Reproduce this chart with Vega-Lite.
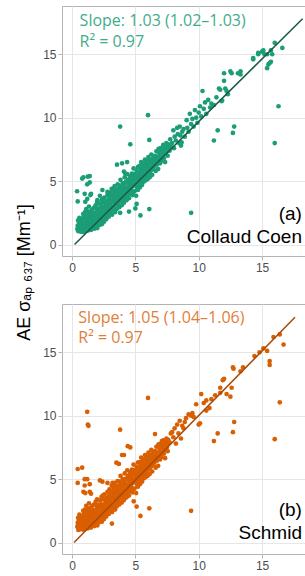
{
  "$schema": "https://vega.github.io/schema/vega-lite/v6.json",
  "background": "white",
  "padding": {"left": 16, "top": 5, "right": 0, "bottom": 0},
  "title": {"text": "AE σₐₚ ₆₃₇ [Mm⁻¹]", "orient": "left", "anchor": "middle", "font": "Liberation Sans", "fontSize": 18, "fontWeight": "normal", "color": "#000000", "offset": 8, "dx": 16},
  "spacing": 29,
  "config": {
    "view": {"stroke": "#b3b3b3", "strokeWidth": 1},
    "axis": {"domain": false, "labelFont": "Liberation Sans", "labelFontSize": 12, "labelColor": "#4d4d4d", "tickSize": 4, "labelPadding": 2, "labelOverlap": false, "labelFlush": false, "gridWidth": 1}
  },
  "datasets": {
    "a": [
      {"x":0.42,"y":1.22},{"x":0.45,"y":1.48},{"x":0.5,"y":1.05},{"x":0.52,"y":1.35},{"x":0.55,"y":1.7},{"x":0.6,"y":1.15},{"x":0.63,"y":1.5},{"x":0.66,"y":1.9},{"x":0.7,"y":1.02},{"x":0.72,"y":1.28},{"x":0.75,"y":1.62},{"x":0.78,"y":2.05},{"x":0.8,"y":1.12},{"x":0.83,"y":1.42},{"x":0.86,"y":1.78},{"x":0.9,"y":1.0},{"x":0.92,"y":1.25},{"x":0.95,"y":1.55},{"x":0.97,"y":2.2},{"x":1.0,"y":1.35},
      {"x":1.03,"y":1.08},{"x":1.05,"y":1.7},{"x":1.08,"y":2.0},{"x":1.1,"y":1.45},{"x":1.13,"y":1.18},{"x":1.16,"y":2.4},{"x":1.2,"y":1.6},{"x":1.22,"y":1.9},{"x":1.25,"y":1.1},{"x":1.28,"y":1.35},{"x":1.3,"y":2.15},{"x":1.33,"y":2.6},{"x":1.36,"y":1.75},{"x":1.4,"y":1.25},{"x":1.42,"y":1.5},{"x":1.45,"y":2.0},{"x":1.48,"y":2.3},{"x":1.5,"y":1.15},{"x":1.53,"y":1.65},{"x":1.56,"y":2.75},{"x":1.58,"y":1.9},
      {"x":1.62,"y":1.35},{"x":1.65,"y":2.1},{"x":1.68,"y":2.5},{"x":1.7,"y":1.6},{"x":1.73,"y":2.9},{"x":1.76,"y":1.25},{"x":1.8,"y":1.85},{"x":1.83,"y":2.3},{"x":1.86,"y":3.1},{"x":1.9,"y":1.5},{"x":1.93,"y":2.05},{"x":1.96,"y":2.6},{"x":2.0,"y":1.3},{"x":2.03,"y":1.75},{"x":2.06,"y":2.4},{"x":2.1,"y":2.85},{"x":2.13,"y":2.15},{"x":2.16,"y":1.55},{"x":2.2,"y":3.2},{"x":2.2,"y":2.55},
      {"x":2.24,"y":1.9},{"x":2.27,"y":2.3},{"x":2.3,"y":2.7},{"x":2.33,"y":3.5},{"x":2.36,"y":1.6},{"x":2.4,"y":2.05},{"x":2.43,"y":2.95},{"x":2.46,"y":3.3},{"x":2.5,"y":2.45},{"x":2.53,"y":1.8},{"x":2.56,"y":3.7},{"x":2.6,"y":2.2},{"x":2.63,"y":2.8},{"x":2.66,"y":3.1},{"x":2.7,"y":2.0},{"x":2.73,"y":2.55},{"x":2.76,"y":3.45},{"x":2.8,"y":3.9},{"x":2.8,"y":2.35},
      {"x":2.84,"y":2.75},{"x":2.87,"y":3.05},{"x":2.9,"y":2.2},{"x":2.93,"y":3.6},{"x":2.96,"y":4.1},{"x":3.0,"y":2.5},{"x":3.03,"y":3.25},{"x":3.06,"y":2.9},{"x":3.1,"y":3.85},{"x":3.13,"y":4.4},{"x":3.16,"y":2.35},{"x":3.2,"y":3.0},{"x":3.23,"y":3.5},{"x":3.26,"y":2.7},{"x":3.3,"y":4.05},{"x":3.33,"y":3.3},{"x":3.36,"y":4.6},{"x":3.4,"y":2.55},{"x":3.4,"y":3.75},
      {"x":3.44,"y":3.15},{"x":3.47,"y":3.5},{"x":3.5,"y":4.25},{"x":3.53,"y":2.8},{"x":3.56,"y":3.9},{"x":3.6,"y":4.75},{"x":3.63,"y":3.3},{"x":3.66,"y":3.65},{"x":3.7,"y":4.4},{"x":3.73,"y":2.95},{"x":3.76,"y":4.05},{"x":3.8,"y":3.45},{"x":3.83,"y":5.1},{"x":3.86,"y":3.8},{"x":3.9,"y":4.5},{"x":3.93,"y":3.1},{"x":3.96,"y":4.2},{"x":4.0,"y":3.6},{"x":4.0,"y":4.85},
      {"x":4.04,"y":3.95},{"x":4.07,"y":4.3},{"x":4.1,"y":3.3},{"x":4.13,"y":4.7},{"x":4.16,"y":5.3},{"x":4.2,"y":3.75},{"x":4.23,"y":4.1},{"x":4.26,"y":4.95},{"x":4.3,"y":3.5},{"x":4.33,"y":4.45},{"x":4.36,"y":5.55},{"x":4.4,"y":3.9},{"x":4.43,"y":4.25},{"x":4.46,"y":4.8},{"x":4.5,"y":3.65},{"x":4.53,"y":5.15},{"x":4.56,"y":4.55},{"x":4.6,"y":4.0},{"x":4.6,"y":5.4},
      {"x":4.64,"y":4.75},{"x":4.67,"y":5.05},{"x":4.7,"y":4.3},{"x":4.73,"y":5.6},{"x":4.76,"y":3.9},{"x":4.8,"y":4.6},{"x":4.83,"y":5.3},{"x":4.86,"y":6.0},{"x":4.9,"y":4.95},{"x":4.93,"y":4.2},{"x":4.96,"y":5.5},{"x":5.0,"y":4.7},{"x":5.03,"y":5.15},{"x":5.06,"y":3.85},{"x":5.1,"y":5.8},{"x":5.13,"y":4.45},{"x":5.16,"y":5.0},{"x":5.2,"y":6.1},{"x":5.2,"y":4.3},
      {"x":5.24,"y":5.35},{"x":5.27,"y":5.7},{"x":5.3,"y":4.85},{"x":5.33,"y":6.2},{"x":5.36,"y":4.5},{"x":5.4,"y":5.2},{"x":5.43,"y":5.95},{"x":5.46,"y":6.5},{"x":5.5,"y":5.5},{"x":5.53,"y":4.7},{"x":5.56,"y":6.05},{"x":5.6,"y":5.25},{"x":5.63,"y":5.75},{"x":5.66,"y":4.95},{"x":5.7,"y":6.4},{"x":5.73,"y":5.55},{"x":5.76,"y":6.7},{"x":5.8,"y":5.05},{"x":5.8,"y":5.9},
      {"x":5.84,"y":6.25},{"x":5.87,"y":5.4},{"x":5.9,"y":6.6},{"x":5.93,"y":5.75},{"x":5.96,"y":5.15},{"x":6.0,"y":6.35},{"x":6.03,"y":6.9},{"x":6.06,"y":5.6},{"x":6.1,"y":6.05},{"x":6.13,"y":5.3},{"x":6.16,"y":6.7},{"x":6.2,"y":6.2},{"x":6.23,"y":5.85},{"x":6.26,"y":7.1},{"x":6.3,"y":6.45},{"x":6.33,"y":5.5},{"x":6.36,"y":6.1},{"x":6.4,"y":6.8},{"x":6.4,"y":5.95},
      {"x":6.45,"y":6.5},{"x":6.5,"y":6.15},{"x":6.55,"y":7.0},{"x":6.6,"y":5.8},{"x":6.63,"y":6.6},{"x":6.66,"y":7.35},{"x":6.7,"y":6.3},{"x":6.75,"y":6.9},{"x":6.8,"y":5.95},{"x":6.83,"y":7.55},{"x":6.86,"y":6.55},{"x":6.9,"y":7.2},{"x":6.95,"y":6.4},{"x":7.0,"y":6.85},{"x":7.0,"y":7.6},
      {"x":7.05,"y":6.6},{"x":7.1,"y":7.3},{"x":7.15,"y":7.0},{"x":7.2,"y":7.85},{"x":7.25,"y":6.8},{"x":7.3,"y":7.5},{"x":7.35,"y":6.5},{"x":7.4,"y":7.2},{"x":7.45,"y":8.0},{"x":7.5,"y":7.6},{"x":7.55,"y":7.0},{"x":7.6,"y":7.9},
      {"x":0.48,"y":1.9},{"x":0.58,"y":2.1},{"x":0.68,"y":1.35},{"x":0.88,"y":2.4},{"x":1.02,"y":2.55},{"x":1.12,"y":2.8},{"x":1.18,"y":1.3},{"x":1.26,"y":2.3},{"x":1.34,"y":3.0},{"x":1.44,"y":1.8},{"x":1.52,"y":2.5},{"x":1.6,"y":2.2},{"x":1.66,"y":1.8},{"x":1.74,"y":2.15},{"x":1.84,"y":1.6},{"x":1.92,"y":2.8},{"x":1.98,"y":3.3},{"x":2.04,"y":2.1},{"x":2.12,"y":2.6},{"x":2.18,"y":1.9},{"x":2.26,"y":2.6},{"x":2.35,"y":2.45},{"x":2.42,"y":3.6},{"x":2.48,"y":2.75},{"x":2.55,"y":2.1},{"x":2.62,"y":3.35},{"x":2.68,"y":2.45},{"x":2.74,"y":2.95},{"x":2.82,"y":3.3},{"x":2.88,"y":2.55},{"x":2.95,"y":2.9},{"x":3.02,"y":3.9},{"x":3.08,"y":3.4},{"x":3.14,"y":2.7},{"x":3.22,"y":4.3},{"x":3.28,"y":3.7},{"x":3.35,"y":2.9},{"x":3.42,"y":4.35},{"x":3.48,"y":3.85},{"x":3.55,"y":3.3},{"x":3.62,"y":4.1},{"x":3.68,"y":3.1},{"x":3.75,"y":4.65},{"x":3.82,"y":3.95},{"x":3.88,"y":4.25},{"x":3.95,"y":3.4},{"x":4.02,"y":4.5},{"x":4.08,"y":3.7},{"x":4.15,"y":4.05},{"x":4.22,"y":4.55},{"x":4.28,"y":3.95},{"x":4.35,"y":4.2},{"x":4.42,"y":5.1},{"x":4.48,"y":4.35},{"x":4.55,"y":5.0},{"x":4.62,"y":4.4},{"x":4.68,"y":4.65},{"x":4.75,"y":5.25},{"x":4.82,"y":4.1},{"x":4.88,"y":5.55},{"x":4.95,"y":4.85},{"x":5.02,"y":5.45},{"x":5.08,"y":4.9},{"x":5.15,"y":5.35},{"x":5.22,"y":4.75},{"x":5.28,"y":5.05},{"x":5.35,"y":5.6},{"x":5.42,"y":5.4},{"x":5.48,"y":4.95},{"x":5.55,"y":5.75},{"x":5.62,"y":6.3},{"x":5.68,"y":5.35},{"x":5.75,"y":6.1},{"x":5.82,"y":5.6},{"x":5.88,"y":6.0},{"x":5.95,"y":6.5},{"x":6.02,"y":5.9},{"x":6.08,"y":6.5},{"x":6.15,"y":5.75},{"x":6.22,"y":6.55},{"x":6.28,"y":6.0},{"x":6.35,"y":6.65},{"x":6.42,"y":6.3},{"x":6.48,"y":6.9},{"x":6.58,"y":6.4},{"x":6.68,"y":6.75},{"x":6.78,"y":6.5},{"x":6.88,"y":6.95},{"x":6.98,"y":7.3},{"x":7.08,"y":7.05},{"x":7.18,"y":7.5},{"x":7.28,"y":7.15},{"x":7.38,"y":7.8},{"x":7.48,"y":7.35},{"x":7.58,"y":7.6},{"x":0.55,"y":1.25},{"x":0.75,"y":1.4},{"x":0.95,"y":1.2},{"x":1.15,"y":1.6},{"x":1.35,"y":1.45},{"x":1.55,"y":1.4},{"x":1.75,"y":1.95},{"x":1.95,"y":1.85},{"x":2.15,"y":2.35},{"x":2.35,"y":2.9},{"x":2.55,"y":2.6},{"x":2.75,"y":2.75},
      {"x":7.7,"y":7.4},{"x":7.75,"y":8.3},{"x":7.8,"y":7.7},{"x":7.9,"y":8.0},{"x":8.0,"y":9.0},{"x":8.05,"y":7.6},{"x":8.1,"y":8.5},{"x":8.2,"y":8.2},{"x":8.3,"y":9.2},{"x":8.35,"y":8.7},{"x":8.45,"y":8.0},{"x":8.5,"y":9.3},{"x":8.55,"y":8.6},{"x":8.6,"y":7.8},{"x":8.65,"y":8.05},{"x":8.7,"y":8.9},{"x":8.8,"y":9.1},{"x":8.9,"y":8.5},{"x":9.05,"y":9.8},{"x":9.1,"y":9.2},{"x":9.2,"y":8.9},{"x":9.3,"y":10.3},{"x":9.4,"y":9.5},{"x":9.5,"y":9.9},{"x":9.6,"y":9.3},{"x":9.7,"y":10.6},{"x":9.8,"y":10.0},{"x":9.9,"y":9.6},{"x":10.0,"y":10.4},{"x":10.1,"y":10.9},{"x":10.2,"y":10.1},{"x":10.3,"y":12.1},{"x":10.4,"y":10.7},{"x":10.5,"y":11.2},{"x":10.6,"y":10.3},{"x":10.75,"y":11.4},{"x":10.9,"y":10.8},{"x":11.0,"y":11.1},{"x":11.2,"y":11.0},{"x":11.4,"y":11.6},
      {"x":11.6,"y":12.3},{"x":11.8,"y":11.3},{"x":11.85,"y":11.35},{"x":11.7,"y":12.2},{"x":12.0,"y":12.9},{"x":12.0,"y":13.5},{"x":12.1,"y":12.3},{"x":12.2,"y":12.1},{"x":12.3,"y":11.85},{"x":12.5,"y":13.65},{"x":12.6,"y":13.5},{"x":13.1,"y":13.5},{"x":13.3,"y":13.4},{"x":13.3,"y":13.65},{"x":14.3,"y":14.6},{"x":14.3,"y":14.7},{"x":14.7,"y":15.0},{"x":14.7,"y":15.1},{"x":15.0,"y":15.2},{"x":15.1,"y":15.3},{"x":15.2,"y":15.0},{"x":15.4,"y":15.0},{"x":15.4,"y":13.9},{"x":15.5,"y":14.2},{"x":15.6,"y":14.3},{"x":15.7,"y":14.4},{"x":15.7,"y":15.3},{"x":15.8,"y":15.0},{"x":16.0,"y":15.9},{"x":16.6,"y":15.5},
      {"x":16.3,"y":10.9},{"x":16.0,"y":8.0},{"x":12.8,"y":9.3},{"x":12.7,"y":8.8},{"x":11.5,"y":9.0},{"x":11.2,"y":8.2},{"x":9.4,"y":2.5},{"x":6.0,"y":10.2},{"x":3.8,"y":9.3},{"x":4.6,"y":7.9},{"x":6.1,"y":8.25},{"x":6.1,"y":2.8},{"x":0.9,"y":5.3},{"x":1.4,"y":5.4},{"x":1.4,"y":4.9},{"x":0.4,"y":4.2},{"x":0.45,"y":3.4},{"x":1.0,"y":4.0},{"x":1.5,"y":4.0},{"x":2.2,"y":3.85},
      {"x":3.55,"y":6.3},{"x":3.95,"y":6.4},{"x":4.35,"y":6.5},{"x":4.2,"y":5.6},{"x":4.1,"y":5.75},{"x":2.4,"y":4.3},{"x":2.8,"y":4.15},{"x":3.2,"y":4.2},{"x":1.45,"y":3.9},{"x":1.2,"y":3.6},{"x":2.0,"y":3.5},{"x":0.8,"y":5.2},{"x":1.25,"y":5.35},{"x":1.2,"y":4.75},{"x":1.05,"y":3.37},{"x":5.0,"y":2.85},{"x":5.4,"y":2.3},{"x":3.8,"y":2.5},{"x":4.5,"y":2.6},{"x":5.1,"y":3.2}
    ],
    "b": [
      {"x":0.42,"y":1.25},{"x":0.45,"y":1.55},{"x":0.5,"y":1.0},{"x":0.52,"y":1.4},{"x":0.55,"y":1.75},{"x":0.6,"y":1.2},{"x":0.63,"y":1.55},{"x":0.66,"y":1.95},{"x":0.7,"y":1.05},{"x":0.72,"y":1.3},{"x":0.75,"y":1.68},{"x":0.78,"y":2.1},{"x":0.8,"y":1.15},{"x":0.83,"y":1.45},{"x":0.86,"y":1.85},{"x":0.9,"y":1.02},{"x":0.92,"y":1.3},{"x":0.95,"y":1.6},{"x":0.97,"y":2.3},{"x":1.0,"y":1.4},
      {"x":1.03,"y":1.1},{"x":1.05,"y":1.75},{"x":1.08,"y":2.05},{"x":1.1,"y":1.5},{"x":1.13,"y":1.2},{"x":1.16,"y":2.5},{"x":1.2,"y":1.65},{"x":1.22,"y":1.95},{"x":1.25,"y":1.12},{"x":1.28,"y":1.4},{"x":1.3,"y":2.2},{"x":1.33,"y":2.7},{"x":1.36,"y":1.8},{"x":1.4,"y":1.28},{"x":1.42,"y":1.55},{"x":1.45,"y":2.05},{"x":1.48,"y":2.35},{"x":1.5,"y":1.18},{"x":1.53,"y":1.7},{"x":1.56,"y":2.85},{"x":1.58,"y":1.95},
      {"x":1.62,"y":1.4},{"x":1.65,"y":2.15},{"x":1.68,"y":2.55},{"x":1.7,"y":1.65},{"x":1.73,"y":3.0},{"x":1.76,"y":1.3},{"x":1.8,"y":1.9},{"x":1.83,"y":2.35},{"x":1.86,"y":3.2},{"x":1.9,"y":1.55},{"x":1.93,"y":2.1},{"x":1.96,"y":2.65},{"x":2.0,"y":1.35},{"x":2.03,"y":1.8},{"x":2.06,"y":2.45},{"x":2.1,"y":2.95},{"x":2.13,"y":2.2},{"x":2.16,"y":1.6},{"x":2.2,"y":3.3},{"x":2.2,"y":2.6},
      {"x":2.24,"y":1.95},{"x":2.27,"y":2.35},{"x":2.3,"y":2.75},{"x":2.33,"y":3.6},{"x":2.36,"y":1.65},{"x":2.4,"y":2.1},{"x":2.43,"y":3.0},{"x":2.46,"y":3.4},{"x":2.5,"y":2.5},{"x":2.53,"y":1.85},{"x":2.56,"y":3.8},{"x":2.6,"y":2.25},{"x":2.63,"y":2.85},{"x":2.66,"y":3.2},{"x":2.7,"y":2.05},{"x":2.73,"y":2.6},{"x":2.76,"y":3.55},{"x":2.8,"y":4.0},{"x":2.8,"y":2.4},
      {"x":2.84,"y":2.8},{"x":2.87,"y":3.1},{"x":2.9,"y":2.25},{"x":2.93,"y":3.7},{"x":2.96,"y":4.2},{"x":3.0,"y":2.55},{"x":3.03,"y":3.3},{"x":3.06,"y":2.95},{"x":3.1,"y":3.95},{"x":3.13,"y":4.5},{"x":3.16,"y":2.4},{"x":3.2,"y":3.05},{"x":3.23,"y":3.6},{"x":3.26,"y":2.75},{"x":3.3,"y":4.15},{"x":3.33,"y":3.35},{"x":3.36,"y":4.7},{"x":3.4,"y":2.6},{"x":3.4,"y":3.85},
      {"x":3.44,"y":3.2},{"x":3.47,"y":3.55},{"x":3.5,"y":4.35},{"x":3.53,"y":2.85},{"x":3.56,"y":4.0},{"x":3.6,"y":4.85},{"x":3.63,"y":3.35},{"x":3.66,"y":3.75},{"x":3.7,"y":4.5},{"x":3.73,"y":3.0},{"x":3.76,"y":4.15},{"x":3.8,"y":3.5},{"x":3.83,"y":5.25},{"x":3.86,"y":3.9},{"x":3.9,"y":4.6},{"x":3.93,"y":3.15},{"x":3.96,"y":4.3},{"x":4.0,"y":3.65},{"x":4.0,"y":5.0},
      {"x":4.04,"y":4.05},{"x":4.07,"y":4.4},{"x":4.1,"y":3.35},{"x":4.13,"y":4.8},{"x":4.16,"y":5.45},{"x":4.2,"y":3.8},{"x":4.23,"y":4.2},{"x":4.26,"y":5.05},{"x":4.3,"y":3.55},{"x":4.33,"y":4.55},{"x":4.36,"y":5.7},{"x":4.4,"y":3.95},{"x":4.43,"y":4.35},{"x":4.46,"y":4.9},{"x":4.5,"y":3.7},{"x":4.53,"y":5.3},{"x":4.56,"y":4.65},{"x":4.6,"y":4.1},{"x":4.6,"y":5.55},
      {"x":4.64,"y":4.85},{"x":4.67,"y":5.15},{"x":4.7,"y":4.35},{"x":4.73,"y":5.75},{"x":4.76,"y":3.95},{"x":4.8,"y":4.7},{"x":4.83,"y":5.45},{"x":4.86,"y":6.15},{"x":4.9,"y":5.05},{"x":4.93,"y":4.25},{"x":4.96,"y":5.65},{"x":5.0,"y":4.8},{"x":5.03,"y":5.3},{"x":5.06,"y":3.9},{"x":5.1,"y":5.95},{"x":5.13,"y":4.55},{"x":5.16,"y":5.1},{"x":5.2,"y":6.3},{"x":5.2,"y":4.4},
      {"x":5.24,"y":5.5},{"x":5.27,"y":5.85},{"x":5.3,"y":4.95},{"x":5.33,"y":6.35},{"x":5.36,"y":4.6},{"x":5.4,"y":5.3},{"x":5.43,"y":6.1},{"x":5.46,"y":6.7},{"x":5.5,"y":5.65},{"x":5.53,"y":4.8},{"x":5.56,"y":6.2},{"x":5.6,"y":5.35},{"x":5.63,"y":5.9},{"x":5.66,"y":5.05},{"x":5.7,"y":6.55},{"x":5.73,"y":5.7},{"x":5.76,"y":6.9},{"x":5.8,"y":5.15},{"x":5.8,"y":6.05},
      {"x":5.84,"y":6.4},{"x":5.87,"y":5.5},{"x":5.9,"y":6.8},{"x":5.93,"y":5.9},{"x":5.96,"y":5.25},{"x":6.0,"y":6.5},{"x":6.03,"y":7.1},{"x":6.06,"y":5.75},{"x":6.1,"y":6.2},{"x":6.13,"y":5.4},{"x":6.16,"y":6.9},{"x":6.2,"y":6.35},{"x":6.23,"y":6.0},{"x":6.26,"y":7.3},{"x":6.3,"y":6.6},{"x":6.33,"y":5.6},{"x":6.36,"y":6.25},{"x":6.4,"y":7.0},{"x":6.4,"y":6.1},
      {"x":6.45,"y":6.7},{"x":6.5,"y":6.3},{"x":6.55,"y":7.2},{"x":6.6,"y":5.9},{"x":6.63,"y":6.8},{"x":6.66,"y":7.55},{"x":6.7,"y":6.45},{"x":6.75,"y":7.1},{"x":6.8,"y":6.05},{"x":6.83,"y":7.75},{"x":6.86,"y":6.7},{"x":6.9,"y":7.4},{"x":6.95,"y":6.55},{"x":7.0,"y":7.05},{"x":7.0,"y":7.8},
      {"x":7.05,"y":6.75},{"x":7.1,"y":7.5},{"x":7.15,"y":7.2},{"x":7.2,"y":8.05},{"x":7.25,"y":7.0},{"x":7.3,"y":7.7},{"x":7.35,"y":6.65},{"x":7.4,"y":7.4},{"x":7.45,"y":8.2},{"x":7.5,"y":7.8},{"x":7.55,"y":7.2},{"x":7.6,"y":8.1},
      {"x":0.48,"y":1.95},{"x":0.58,"y":2.2},{"x":0.68,"y":1.4},{"x":0.88,"y":2.5},{"x":1.02,"y":2.6},{"x":1.12,"y":2.9},{"x":1.18,"y":1.35},{"x":1.26,"y":2.35},{"x":1.34,"y":3.1},{"x":1.44,"y":1.85},{"x":1.52,"y":2.55},{"x":1.6,"y":2.25},{"x":1.66,"y":1.85},{"x":1.74,"y":2.2},{"x":1.84,"y":1.65},{"x":1.92,"y":2.9},{"x":1.98,"y":3.4},{"x":2.04,"y":2.15},{"x":2.12,"y":2.65},{"x":2.18,"y":1.95},{"x":2.26,"y":2.7},{"x":2.35,"y":2.5},{"x":2.42,"y":3.7},{"x":2.48,"y":2.8},{"x":2.55,"y":2.15},{"x":2.62,"y":3.45},{"x":2.68,"y":2.5},{"x":2.74,"y":3.05},{"x":2.82,"y":3.4},{"x":2.88,"y":2.6},{"x":2.95,"y":3.0},{"x":3.02,"y":4.0},{"x":3.08,"y":3.5},{"x":3.14,"y":2.75},{"x":3.22,"y":4.4},{"x":3.28,"y":3.8},{"x":3.35,"y":2.95},{"x":3.42,"y":4.5},{"x":3.48,"y":3.95},{"x":3.55,"y":3.4},{"x":3.62,"y":4.2},{"x":3.68,"y":3.15},{"x":3.75,"y":4.8},{"x":3.82,"y":4.05},{"x":3.88,"y":4.35},{"x":3.95,"y":3.45},{"x":4.02,"y":4.6},{"x":4.08,"y":3.75},{"x":4.15,"y":4.15},{"x":4.22,"y":4.65},{"x":4.28,"y":4.05},{"x":4.35,"y":4.3},{"x":4.42,"y":5.25},{"x":4.48,"y":4.45},{"x":4.55,"y":5.1},{"x":4.62,"y":4.5},{"x":4.68,"y":4.75},{"x":4.75,"y":5.4},{"x":4.82,"y":4.2},{"x":4.88,"y":5.7},{"x":4.95,"y":4.95},{"x":5.02,"y":5.6},{"x":5.08,"y":5.0},{"x":5.15,"y":5.5},{"x":5.22,"y":4.85},{"x":5.28,"y":5.15},{"x":5.35,"y":5.75},{"x":5.42,"y":5.55},{"x":5.48,"y":5.05},{"x":5.55,"y":5.9},{"x":5.62,"y":6.45},{"x":5.68,"y":5.45},{"x":5.75,"y":6.25},{"x":5.82,"y":5.7},{"x":5.88,"y":6.15},{"x":5.95,"y":6.65},{"x":6.02,"y":6.05},{"x":6.08,"y":6.65},{"x":6.15,"y":5.85},{"x":6.22,"y":6.7},{"x":6.28,"y":6.15},{"x":6.35,"y":6.8},{"x":6.42,"y":6.45},{"x":6.48,"y":7.05},{"x":6.58,"y":6.55},{"x":6.68,"y":6.9},{"x":6.78,"y":6.65},{"x":6.88,"y":7.1},{"x":6.98,"y":7.5},{"x":7.08,"y":7.2},{"x":7.18,"y":7.7},{"x":7.28,"y":7.3},{"x":7.38,"y":8.0},{"x":7.48,"y":7.5},{"x":7.58,"y":7.8},{"x":0.55,"y":1.3},{"x":0.75,"y":1.45},{"x":0.95,"y":1.25},{"x":1.15,"y":1.65},{"x":1.35,"y":1.5},{"x":1.55,"y":1.45},{"x":1.75,"y":2.0},{"x":1.95,"y":1.9},{"x":2.15,"y":2.4},{"x":2.35,"y":3.0},{"x":2.55,"y":2.65},{"x":2.75,"y":2.8},
      {"x":7.1,"y":8.0},{"x":7.3,"y":7.9},{"x":7.7,"y":7.9},{"x":8.2,"y":7.8},{"x":7.8,"y":8.6},{"x":7.9,"y":8.7},{"x":8.3,"y":9.3},{"x":8.8,"y":9.0},{"x":6.55,"y":8.55},{"x":8.0,"y":8.3},{"x":8.1,"y":9.0},{"x":8.4,"y":8.6},{"x":8.5,"y":9.6},{"x":8.6,"y":8.2},{"x":8.7,"y":9.2},{"x":8.9,"y":9.5},{"x":9.0,"y":9.8},{"x":9.2,"y":10.1},{"x":9.4,"y":10.0},{"x":9.5,"y":10.2},{"x":9.6,"y":9.9},{"x":9.8,"y":10.9},{"x":10.0,"y":9.3},{"x":10.1,"y":9.4},{"x":10.2,"y":11.7},{"x":10.4,"y":11.0},{"x":10.6,"y":11.2},{"x":10.6,"y":10.4},{"x":10.85,"y":10.6},{"x":11.0,"y":11.3},{"x":11.3,"y":11.6},
      {"x":11.7,"y":12.2},{"x":11.7,"y":11.8},{"x":12.2,"y":11.7},{"x":12.5,"y":11.5},{"x":12.6,"y":12.2},{"x":11.9,"y":12.8},{"x":12.0,"y":12.9},{"x":12.7,"y":13.8},{"x":12.75,"y":13.7},{"x":13.3,"y":13.5},{"x":13.5,"y":13.8},{"x":14.4,"y":14.7},{"x":14.8,"y":15.0},{"x":15.1,"y":15.3},{"x":15.4,"y":15.1},{"x":15.9,"y":16.2},{"x":16.4,"y":16.4},{"x":16.7,"y":15.6},{"x":15.6,"y":14.3},{"x":15.6,"y":14.0},
      {"x":16.4,"y":11.05},{"x":16.0,"y":8.15},{"x":12.8,"y":9.5},{"x":12.7,"y":8.7},{"x":11.5,"y":8.6},{"x":11.2,"y":8.0},{"x":9.4,"y":2.5},{"x":6.1,"y":2.7},{"x":5.4,"y":2.1},{"x":2.2,"y":4.9},{"x":0.9,"y":4.0},{"x":1.4,"y":4.0},{"x":1.0,"y":4.5},{"x":1.4,"y":4.6},{"x":1.0,"y":5.0},{"x":1.2,"y":5.0},{"x":0.45,"y":4.7},{"x":0.8,"y":5.9},{"x":0.45,"y":5.8},{"x":3.8,"y":8.9},{"x":6.0,"y":11.4},{"x":1.2,"y":10.3},{"x":1.25,"y":9.3},{"x":1.3,"y":9.2},
      {"x":4.4,"y":7.6},{"x":4.6,"y":7.5},{"x":4.1,"y":6.9},{"x":3.5,"y":6.3},{"x":3.95,"y":6.9},{"x":3.7,"y":6.2},{"x":2.4,"y":4.8},{"x":2.8,"y":4.7},{"x":3.2,"y":4.7},{"x":1.05,"y":3.9},{"x":1.5,"y":3.85},{"x":4.87,"y":3.25},{"x":5.1,"y":2.84},{"x":3.15,"y":1.5}
    ]
  },
  "vconcat": [
    {
      "width": 243, "height": 250,
      "layer": [
        {
          "data": {"name": "a"},
          "mark": {"type": "circle", "size": 22, "opacity": 1, "color": "#1B9E77"},
          "encoding": {
            "x": {"field": "x", "type": "quantitative", "scale": {"domain": [-0.79, 18.39], "nice": false, "zero": false},
              "axis": {"title": null, "values": [0, 2.5, 5, 7.5, 10, 12.5, 15, 17.5], "labelExpr": "datum.value % 5 === 0 ? datum.label : ''",
                "tickColor": {"condition": {"test": "datum.value % 5 === 0", "value": "#b3b3b3"}, "value": "rgba(0,0,0,0)"},
                "gridColor": {"condition": {"test": "datum.value % 5 === 0", "value": "#e6e6e6"}, "value": "#f3f3f3"}}},
            "y": {"field": "y", "type": "quantitative", "scale": {"domain": [-0.9, 18.8], "nice": false, "zero": false},
              "axis": {"title": null, "values": [0, 2.5, 5, 7.5, 10, 12.5, 15, 17.5], "labelExpr": "datum.value % 5 === 0 ? datum.label : ''",
                "tickColor": {"condition": {"test": "datum.value % 5 === 0", "value": "#b3b3b3"}, "value": "rgba(0,0,0,0)"},
                "gridColor": {"condition": {"test": "datum.value % 5 === 0", "value": "#e6e6e6"}, "value": "#f3f3f3"}}}
          }
        },
        {
          "data": {"values": [{"x": 0.2, "y": 0}, {"x": 18.2, "y": 17.8}]},
          "mark": {"type": "line", "color": "#1a5a47", "strokeWidth": 1.5, "clip": true},
          "encoding": {"x": {"field": "x", "type": "quantitative"}, "y": {"field": "y", "type": "quantitative"}}
        },
        {
          "data": {"values": [{"x": 0.6, "y": 17.2, "label": "Slope: 1.03 (1.02–1.03)"}, {"x": 0.6, "y": 15.6, "label": "R² = 0.97"}]},
          "mark": {"type": "text", "align": "left", "baseline": "alphabetic", "font": "Open Sans", "fontSize": 16, "color": "#1B9E77", "opacity": 0.85},
          "encoding": {"x": {"field": "x", "type": "quantitative"}, "y": {"field": "y", "type": "quantitative"}, "text": {"field": "label"}}
        },
        {
          "data": {"values": [{"x": 18.15, "y": 1.95, "label": "(a)"}, {"x": 18.15, "y": 0.16, "label": "Collaud Coen"}]},
          "mark": {"type": "text", "align": "right", "baseline": "alphabetic", "font": "Liberation Sans", "fontSize": 19, "color": "#000000"},
          "encoding": {"x": {"field": "x", "type": "quantitative"}, "y": {"field": "y", "type": "quantitative"}, "text": {"field": "label"}}
        }
      ]
    },
    {
      "width": 243, "height": 250,
      "layer": [
        {
          "data": {"name": "b"},
          "mark": {"type": "circle", "size": 22, "opacity": 1, "color": "#D95F02"},
          "encoding": {
            "x": {"field": "x", "type": "quantitative", "scale": {"domain": [-0.79, 18.39], "nice": false, "zero": false},
              "axis": {"title": null, "values": [0, 2.5, 5, 7.5, 10, 12.5, 15, 17.5], "labelExpr": "datum.value % 5 === 0 ? datum.label : ''",
                "tickColor": {"condition": {"test": "datum.value % 5 === 0", "value": "#b3b3b3"}, "value": "rgba(0,0,0,0)"},
                "gridColor": {"condition": {"test": "datum.value % 5 === 0", "value": "#e6e6e6"}, "value": "#f3f3f3"}}},
            "y": {"field": "y", "type": "quantitative", "scale": {"domain": [-0.9, 18.8], "nice": false, "zero": false},
              "axis": {"title": null, "values": [0, 2.5, 5, 7.5, 10, 12.5, 15, 17.5], "labelExpr": "datum.value % 5 === 0 ? datum.label : ''",
                "tickColor": {"condition": {"test": "datum.value % 5 === 0", "value": "#b3b3b3"}, "value": "rgba(0,0,0,0)"},
                "gridColor": {"condition": {"test": "datum.value % 5 === 0", "value": "#e6e6e6"}, "value": "#f3f3f3"}}}
          }
        },
        {
          "data": {"values": [{"x": 0.16, "y": 0}, {"x": 17.6, "y": 17.75}]},
          "mark": {"type": "line", "color": "#a84a08", "strokeWidth": 1.5, "clip": true},
          "encoding": {"x": {"field": "x", "type": "quantitative"}, "y": {"field": "y", "type": "quantitative"}}
        },
        {
          "data": {"values": [{"x": 0.5, "y": 17.3, "label": "Slope: 1.05 (1.04–1.06)"}, {"x": 0.5, "y": 15.7, "label": "R² = 0.97"}]},
          "mark": {"type": "text", "align": "left", "baseline": "alphabetic", "font": "Open Sans", "fontSize": 16, "color": "#D95F02", "opacity": 0.8},
          "encoding": {"x": {"field": "x", "type": "quantitative"}, "y": {"field": "y", "type": "quantitative"}, "text": {"field": "label"}}
        },
        {
          "data": {"values": [{"x": 18.15, "y": 2.1, "label": "(b)"}, {"x": 18.15, "y": 0.26, "label": "Schmid"}]},
          "mark": {"type": "text", "align": "right", "baseline": "alphabetic", "font": "Liberation Sans", "fontSize": 19, "color": "#000000"},
          "encoding": {"x": {"field": "x", "type": "quantitative"}, "y": {"field": "y", "type": "quantitative"}, "text": {"field": "label"}}
        }
      ]
    }
  ]
}
